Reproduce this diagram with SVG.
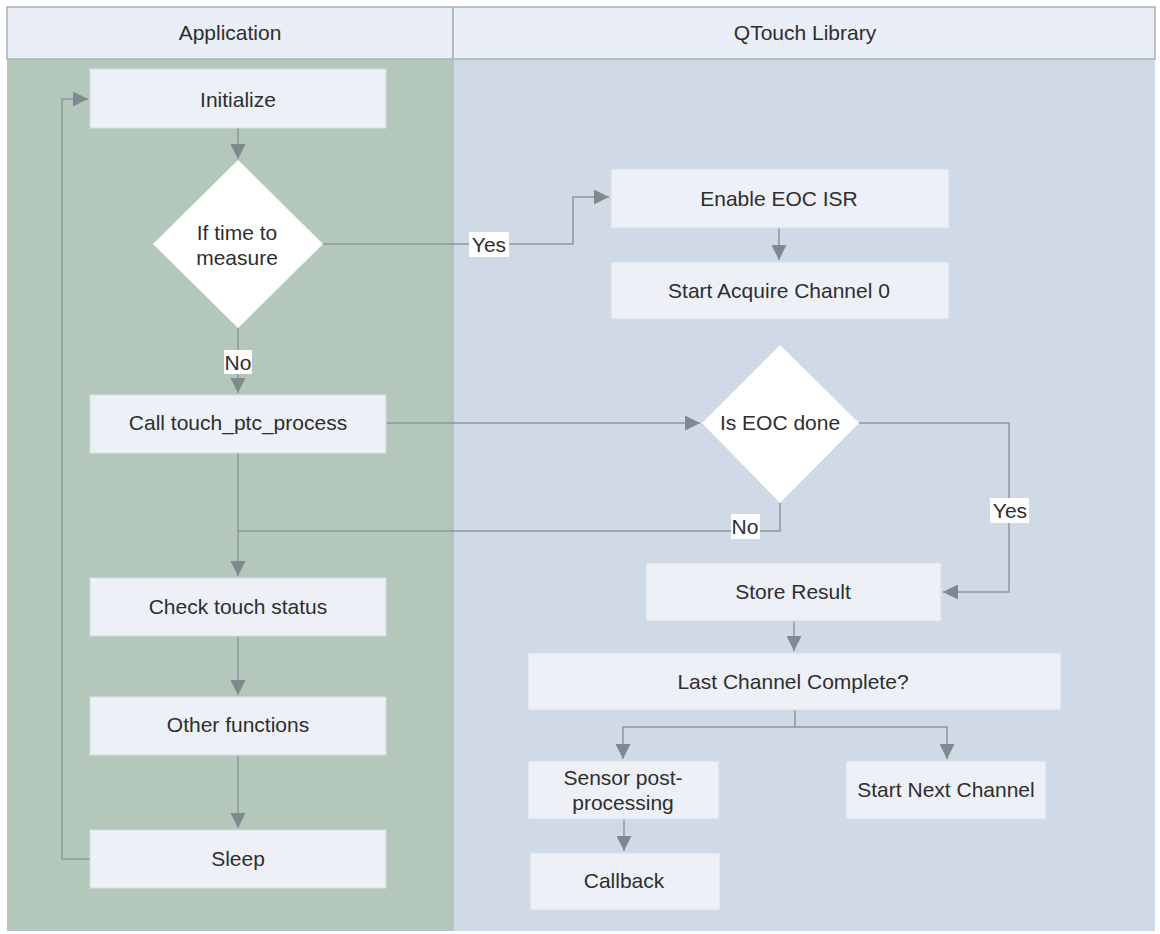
<svg xmlns="http://www.w3.org/2000/svg" width="1160" height="934" viewBox="0 0 1160 934">
<style>
.lane-l{fill:#b3c8ba}
.lane-r{fill:#cfdae6}
.hdr{fill:#e9eef7;stroke:#a9b0b6;stroke-width:1.5}
.box{fill:#edf1f7;stroke:#d6dde5;stroke-width:1}
.dia{fill:#ffffff}
.t{font-family:"Liberation Sans",Arial,sans-serif;font-size:21px;fill:#2e2e2e;text-anchor:middle;dominant-baseline:central}
.lbl{fill:#ffffff}
.c{fill:none;stroke:#8c979c;stroke-width:1.5}
</style>
<defs>
<marker id="ah" viewBox="0 0 10 10" refX="10" refY="5" markerWidth="18" markerHeight="15" markerUnits="userSpaceOnUse" orient="auto">
<path d="M0,0 L10,5 L0,10 z" fill="#7f8a8f"/>
</marker>
</defs>
<rect x="0" y="0" width="1160" height="934" fill="#ffffff"/>
<g id="lanes">
<rect class="lane-l" x="7" y="59" width="446" height="872"/>
<rect class="lane-r" x="453" y="59" width="702" height="872"/>
<line x1="453" y1="59" x2="453" y2="931" stroke="#a7b3bb" stroke-width="1"/>
<rect class="hdr" x="7" y="7" width="446" height="52"/>
<rect class="hdr" x="453" y="7" width="702" height="52"/>
<text class="t" x="230" y="32">Application</text>
<text class="t" x="805" y="32">QTouch Library</text>
</g>
<g id="connectors">
<path class="c" d="M238,128 V159" marker-end="url(#ah)"/>
<path class="c" d="M323,244 H573 V197 H609" marker-end="url(#ah)"/>
<path class="c" d="M779,228 V260" marker-end="url(#ah)"/>
<path class="c" d="M238,328 V393" marker-end="url(#ah)"/>
<path class="c" d="M386,423 H700" marker-end="url(#ah)"/>
<path class="c" d="M859,423 H1009 V592 H943" marker-end="url(#ah)"/>
<path class="c" d="M780,503 V531 H238"/>
<path class="c" d="M238,453 V576" marker-end="url(#ah)"/>
<path class="c" d="M238,636 V695" marker-end="url(#ah)"/>
<path class="c" d="M238,755 V828" marker-end="url(#ah)"/>
<path class="c" d="M90,859 H62 V99 H88" marker-end="url(#ah)"/>
<path class="c" d="M794,621 V651" marker-end="url(#ah)"/>
<path class="c" d="M795,710 V727 H623 V759" marker-end="url(#ah)"/>
<path class="c" d="M795,727 H947 V759" marker-end="url(#ah)"/>
<path class="c" d="M624,819 V851" marker-end="url(#ah)"/>
<rect class="lbl" x="469" y="232" width="40" height="25"/>
<text class="t" x="489" y="244">Yes</text>
<rect class="lbl" x="224" y="350" width="28" height="24"/>
<text class="t" x="238" y="362">No</text>
<rect class="lbl" x="731" y="514" width="29" height="25"/>
<text class="t" x="745" y="526">No</text>
<rect class="lbl" x="990" y="498" width="39" height="25"/>
<text class="t" x="1010" y="510">Yes</text>
</g>
<g id="initialize"><rect class="box" x="90" y="69" width="296" height="59"/><text class="t" x="238" y="99">Initialize</text></g>
<g id="time-to-measure"><polygon class="dia" points="238,160 323,244 238,328 153,244"/><text class="t" x="237" y="232">If time to</text><text class="t" x="237" y="257">measure</text></g>
<g id="enable-eoc"><rect class="box" x="611" y="169" width="338" height="59"/><text class="t" x="779" y="198">Enable EOC ISR</text></g>
<g id="start-acquire"><rect class="box" x="611" y="262" width="338" height="57"/><text class="t" x="779" y="290">Start Acquire Channel 0</text></g>
<g id="call-touch"><rect class="box" x="90" y="395" width="296" height="58"/><text class="t" x="238" y="422">Call touch_ptc_process</text></g>
<g id="is-eoc-done"><polygon class="dia" points="780,345 859,423 780,503 702,423"/><text class="t" x="780" y="422">Is EOC done</text></g>
<g id="check-touch"><rect class="box" x="90" y="578" width="296" height="58"/><text class="t" x="238" y="606">Check touch status</text></g>
<g id="store-result"><rect class="box" x="646" y="563" width="295" height="58"/><text class="t" x="793" y="591">Store Result</text></g>
<g id="last-channel"><rect class="box" x="528" y="653" width="533" height="57"/><text class="t" x="793" y="681">Last Channel Complete?</text></g>
<g id="other-functions"><rect class="box" x="90" y="697" width="296" height="58"/><text class="t" x="238" y="724">Other functions</text></g>
<g id="sensor-post"><rect class="box" x="528" y="761" width="191" height="58"/><text class="t" x="623" y="777">Sensor post-</text><text class="t" x="623" y="802">processing</text></g>
<g id="start-next"><rect class="box" x="846" y="761" width="200" height="58"/><text class="t" x="946" y="789">Start Next Channel</text></g>
<g id="sleep"><rect class="box" x="90" y="830" width="296" height="58"/><text class="t" x="238" y="858">Sleep</text></g>
<g id="callback"><rect class="box" x="530" y="853" width="190" height="57"/><text class="t" x="624" y="880">Callback</text></g>
</svg>
